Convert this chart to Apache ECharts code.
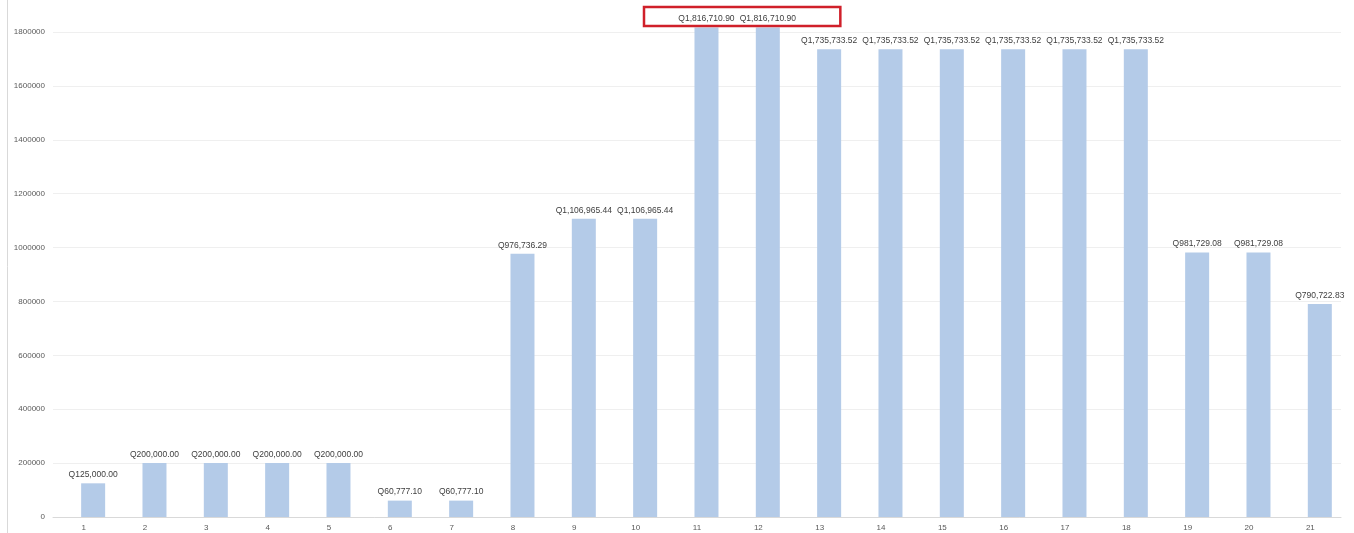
<!DOCTYPE html>
<html>
<head>
<meta charset="utf-8">
<script src="https://cdn.jsdelivr.net/npm/echarts@6/dist/echarts.min.js"></script>
<style>
  html, body { margin: 0; padding: 0; background: #ffffff; }
  #chart { width: 1354px; height: 533px; }
</style>
</head>
<body>
<div id="chart"></div>
<script>
// Periods 1..21 and the amount for each period
const categories = ['1','2','3','4','5','6','7','8','9','10','11','12','13','14','15','16','17','18','19','20','21'];
const amounts = [
  125000.00, 200000.00, 200000.00, 200000.00, 200000.00,
  60777.10, 60777.10, 976736.29, 1106965.44, 1106965.44,
  1816710.90, 1816710.90, 1735733.52, 1735733.52, 1735733.52,
  1735733.52, 1735733.52, 1735733.52, 981729.08, 981729.08,
  790722.83
];
// Empty companion series that reserves the left slot of each cluster
const emptySlot = categories.map(() => null);
// Categories whose labels are boxed in red
const highlighted = ['11', '12'];

const AXIS_FONT = '"Liberation Sans", Arial, sans-serif';
const LABEL_FONT = '"Liberation Sans Narrow", "Liberation Sans", Arial, sans-serif';
const fmtQ = v => 'Q' + Number(v).toLocaleString('en-US', { minimumFractionDigits: 2, maximumFractionDigits: 2 });

const chart = echarts.init(document.getElementById('chart'), null, { renderer: 'canvas' });

const option = {
  animation: false,
  backgroundColor: '#ffffff',
  grid: { left: 53, right: 13, top: 0, bottom: 16, containLabel: false },
  xAxis: {
    type: 'category',
    data: categories,
    axisLine: { show: true, lineStyle: { color: '#d9d9d9', width: 1 } },
    axisTick: { show: false },
    axisLabel: { color: '#595959', fontSize: 8, fontFamily: AXIS_FONT, margin: 7 },
    splitLine: { show: false }
  },
  yAxis: {
    type: 'value',
    min: 0,
    max: 1918764,
    interval: 200000,
    axisLine: { show: false },
    axisTick: { show: false },
    axisLabel: {
      color: '#595959', fontSize: 8, fontFamily: AXIS_FONT, margin: 8,
      showMaxLabel: false,
      formatter: v => String(v)
    },
    splitLine: { show: true, showMaxLine: false, lineStyle: { color: '#efefef', width: 1 } }
  },
  series: [
    {
      type: 'bar',
      data: emptySlot,
      barWidth: 24,
      barGap: '-21%',
      silent: true
    },
    {
      type: 'bar',
      data: amounts,
      barWidth: 24,
      barGap: '-21%',
      itemStyle: { color: '#b4cbe8' },
      label: {
        show: true,
        position: 'top',
        distance: 4,
        color: '#404040',
        fontSize: 8.5,
        fontFamily: LABEL_FONT,
        formatter: p => fmtQ(p.value)
      }
    }
  ]
};

chart.setOption(option);

// Frame line on the left edge and red box round the highlighted labels
const xa = chart.convertToPixel({ xAxisIndex: 0 }, highlighted[0]);
const xb = chart.convertToPixel({ xAxisIndex: 0 }, highlighted[1]);
const topVal = Math.max(amounts[categories.indexOf(highlighted[0])], amounts[categories.indexOf(highlighted[1])]);
const yTop = chart.convertToPixel({ yAxisIndex: 0 }, topVal);

chart.setOption({
  graphic: [
    {
      type: 'line',
      shape: { x1: 7.5, y1: 0, x2: 7.5, y2: 533 },
      style: { stroke: '#d9d9d9', lineWidth: 1 }
    },
    {
      type: 'rect',
      shape: { x: xa - 53, y: yTop - 20.5, width: (xb - xa) + 53 + 82, height: 19 },
      style: { fill: 'none', stroke: '#d0202a', lineWidth: 2.5 },
      z: 100
    }
  ]
});
</script>
</body>
</html>
